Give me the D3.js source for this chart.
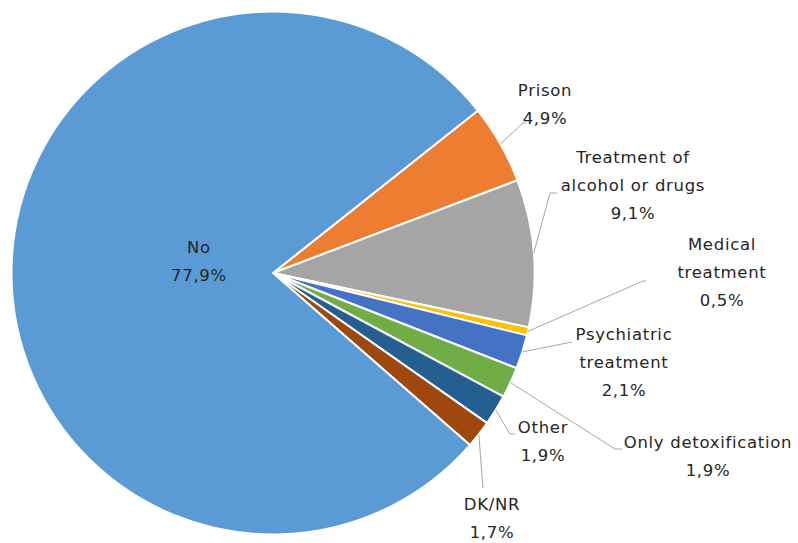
<!DOCTYPE html>
<html>
<head>
<meta charset="utf-8">
<script src="https://cdn.jsdelivr.net/npm/d3@7"></script>
<style>
  body { margin: 0; background: #fff; }
  svg text { font-family: "DejaVu Sans", sans-serif; font-size: 16.5px; letter-spacing: 0.7px; fill: #262626; }
</style>
</head>
<body>
<div id="chart"></div>
<script>
"use strict"

// chart data
var categories = ['Prison', 'Treatment of alcohol or drugs', 'Medical treatment', 'Psychiatric treatment',
    'Only detoxification', 'Other', 'DK/NR', 'No'];
var values = [4.9, 9.1, 0.5, 2.1, 1.9, 1.9, 1.7, 77.9];
var valueLabels = ['4,9%', '9,1%', '0,5%', '2,1%', '1,9%', '1,9%', '1,7%', '77,9%'];
var colors = ['#ED7D31', '#A5A5A5', '#FFC000', '#4472C4', '#70AD47', '#255E91', '#9E480E', '#5B9BD5'];

// label layout: text lines, centre of label, and where the leader line ends (null = none)
var labelLayout = [
    {lines: ['Prison'], x: 545, y: 96, end: [523, 123], knee: [526, 123]},
    {lines: ['Treatment of', 'alcohol or drugs'], x: 633, y: 163, end: [550, 193], knee: [557, 193]},
    {lines: ['Medical', 'treatment'], x: 722, y: 250, end: [643, 281], knee: [646, 281]},
    {lines: ['Psychiatric', 'treatment'], x: 624, y: 340, end: [572, 342], knee: [572, 342]},
    {lines: ['Only detoxification'], x: 708, y: 448, end: [615, 449], knee: [622, 449]},
    {lines: ['Other'], x: 543, y: 433, end: [510, 434], knee: [515, 434]},
    {lines: ['DK/NR'], x: 492, y: 510, end: [483, 488], knee: [483, 488]},
    {lines: ['No'], x: 199, y: 253, end: null}
];

var width = 798, height = 543;
var cx = 273, cy = 273, radius = 261.5;
var lineH = 28;

var svg = d3.select("#chart")
    .append("svg")
    .attr("width", width)
    .attr("height", height);

var g = svg.append("g")
    .attr("transform", "translate(" + cx + "," + cy + ")");

var startDeg = 51.6;
var pie = d3.pie()
    .sort(null)
    .value(function(d) { return d; })
    .startAngle(startDeg * Math.PI / 180)
    .endAngle((startDeg + 360) * Math.PI / 180);

var arcs = pie(values);
var arc = d3.arc().innerRadius(0).outerRadius(radius);

g.selectAll("path.slice")
    .data(arcs)
    .enter()
    .append("path")
    .attr("class", "slice")
    .attr("d", arc)
    .attr("fill", function(d, i) { return colors[i]; })
    .attr("stroke", "#fff")
    .attr("stroke-width", 2)
    .attr("stroke-linejoin", "round");

// leader lines from the slice edge midpoint to the label
arcs.forEach(function(d, i) {
    var lay = labelLayout[i];
    if (!lay.end) return;
    var mid = (d.startAngle + d.endAngle) / 2;
    var sx = cx + Math.sin(mid) * radius;
    var sy = cy - Math.cos(mid) * radius;
    var pts = [[sx, sy], lay.end, lay.knee];
    svg.append("path")
        .attr("d", d3.line()(pts))
        .attr("fill", "none")
        .attr("stroke", "#A6A6A6")
        .attr("stroke-width", 1);
});

// labels
labelLayout.forEach(function(lay, i) {
    var allLines = lay.lines.concat([valueLabels[i]]);
    var t = svg.append("text")
        .attr("text-anchor", "middle");
    allLines.forEach(function(s, k) {
        t.append("tspan")
            .attr("x", lay.x)
            .attr("y", lay.y + k * lineH)
            .text(s);
    });
});
</script>
</body>
</html>
